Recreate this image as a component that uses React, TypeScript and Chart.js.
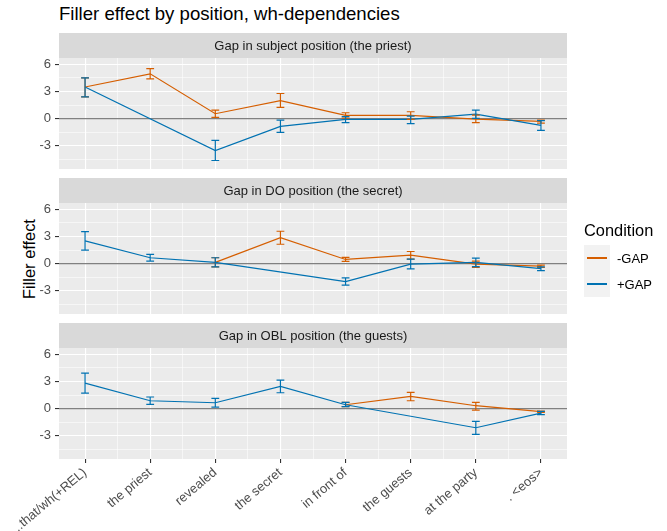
import { useEffect, useRef } from "react";
import { Chart, registerables } from "chart.js";

Chart.register(...registerables);

// Word positions along the sentence
const positions = [
  "...that/wh(+REL)",
  "the priest",
  "revealed",
  "the secret",
  "in front of",
  "the guests",
  "at the party",
  ". <eos>",
];

const panelTitles = [
  "Gap in subject position (the priest)",
  "Gap in DO position (the secret)",
  "Gap in OBL position (the guests)",
];

const conditions = ["-GAP", "+GAP"];

// Subject-gap panel: mean filler effect with lower / upper error bounds
const subjNoGap = [3.5, 4.95, 0.55, 2.0, 0.37, 0.37, -0.04, -0.3];
const subjNoGapLo = [2.41, 4.39, 0.15, 1.24, 0.07, -0.07, -0.44, -0.48];
const subjNoGapHi = [4.5, 5.52, 0.95, 2.78, 0.66, 0.77, 0.4, -0.15];
const subjGap = [3.5, null, -3.51, -0.84, -0.07, -0.07, 0.51, -0.73];
const subjGapLo = [2.41, null, -4.61, -1.5, -0.44, -0.55, 0.04, -1.28];
const subjGapHi = [4.5, null, -2.38, -0.15, 0.22, 0.29, 0.95, -0.22];

// Direct-object-gap panel
const doNoGap = [null, null, 0.15, 2.88, 0.47, 0.95, -0.04, -0.26];
const doNoGapLo = [null, null, -0.36, 2.15, 0.26, 0.51, -0.4, -0.4];
const doNoGapHi = [null, null, 0.66, 3.58, 0.69, 1.35, 0.29, -0.15];
const doGap = [2.52, 0.66, 0.15, null, -1.97, -0.04, 0.15, -0.55];
const doGapLo = [1.5, 0.29, -0.36, null, -2.37, -0.58, -0.33, -0.77];
const doGapHi = [3.54, 1.02, 0.66, null, -1.57, 0.51, 0.62, -0.36];

// Oblique-gap panel
const oblNoGap = [null, null, null, null, 0.44, 1.36, 0.33, -0.33];
const oblNoGapLo = [null, null, null, null, 0.22, 0.88, -0.15, -0.4];
const oblNoGapHi = [null, null, null, null, 0.7, 1.8, 0.7, -0.26];
const oblGap = [2.83, 0.88, 0.66, 2.46, 0.44, null, -2.1, -0.48];
const oblGapLo = [1.73, 0.48, 0.18, 1.76, 0.22, null, -2.83, -0.66];
const oblGapHi = [3.93, 1.29, 1.14, 3.16, 0.7, null, -1.4, -0.29];

// Axis breaks (majors carry labels, the in-between values are minor grid lines)
const yBreaks = [-4.5, -3, -1.5, 0, 1.5, 3, 4.5, 6];
const yMajor = [-3, 0, 3, 6];
const xBreaks = [1, 1.5, 2, 2.5, 3, 3.5, 4, 4.5, 5, 5.5, 6, 6.5, 7, 7.5, 8];

const FONT = '"Liberation Sans", Arial, Helvetica, sans-serif';
const COLORS = ["#D55E00", "#0072B2"];
const Y_MIN = -5.55;
const Y_MAX = 6.7;
const STRIP = 25;
const ERR_HALF = 0.06;

type Vals = (number | null)[];
type Series = { label: string; color: string; y: Vals; lo: Vals; hi: Vals };

const panels: Series[][] = [
  [
    { label: conditions[0], color: COLORS[0], y: subjNoGap, lo: subjNoGapLo, hi: subjNoGapHi },
    { label: conditions[1], color: COLORS[1], y: subjGap, lo: subjGapLo, hi: subjGapHi },
  ],
  [
    { label: conditions[0], color: COLORS[0], y: doNoGap, lo: doNoGapLo, hi: doNoGapHi },
    { label: conditions[1], color: COLORS[1], y: doGap, lo: doGapLo, hi: doGapHi },
  ],
  [
    { label: conditions[0], color: COLORS[0], y: oblNoGap, lo: oblNoGapLo, hi: oblNoGapHi },
    { label: conditions[1], color: COLORS[1], y: oblGap, lo: oblGapLo, hi: oblGapHi },
  ],
];

type PanelProps = { title: string; series: Series[]; top: number; height: number; showX: boolean };

function Panel({ title, series, top, height, showX }: PanelProps) {
  const ref = useRef<HTMLCanvasElement>(null);

  useEffect(() => {
    const canvas = ref.current;
    if (!canvas) return;

    const facetPlugin = {
      id: "facetPanel",
      beforeDraw(chart: any) {
        const { ctx, chartArea: a } = chart;
        ctx.save();
        ctx.fillStyle = "#EBEBEB";
        ctx.fillRect(a.left, a.top, a.right - a.left, a.bottom - a.top);
        ctx.fillStyle = "#D9D9D9";
        ctx.fillRect(a.left, a.top - STRIP, a.right - a.left, STRIP);
        ctx.fillStyle = "#1A1A1A";
        ctx.font = `13px ${FONT}`;
        ctx.textAlign = "center";
        ctx.textBaseline = "middle";
        ctx.fillText(title, (a.left + a.right) / 2, a.top - STRIP / 2 + 0.5);
        ctx.restore();
      },
      beforeDatasetsDraw(chart: any) {
        const { ctx, chartArea: a } = chart;
        const y0 = chart.scales.y.getPixelForValue(0);
        ctx.save();
        ctx.strokeStyle = "#808080";
        ctx.lineWidth = 1.2;
        ctx.beginPath();
        ctx.moveTo(a.left, y0);
        ctx.lineTo(a.right, y0);
        ctx.stroke();
        ctx.restore();
      },
      afterDatasetsDraw(chart: any) {
        const { ctx } = chart;
        const xs = chart.scales.x;
        const ys = chart.scales.y;
        ctx.save();
        ctx.lineWidth = 1.2;
        for (const s of series) {
          ctx.strokeStyle = s.color;
          s.y.forEach((v, i) => {
            const lo = s.lo[i];
            const hi = s.hi[i];
            if (v == null || lo == null || hi == null) return;
            const x = xs.getPixelForValue(i + 1);
            const xl = xs.getPixelForValue(i + 1 - ERR_HALF);
            const xr = xs.getPixelForValue(i + 1 + ERR_HALF);
            const yl = ys.getPixelForValue(lo);
            const yh = ys.getPixelForValue(hi);
            ctx.beginPath();
            ctx.moveTo(x, yl);
            ctx.lineTo(x, yh);
            ctx.moveTo(xl, yl);
            ctx.lineTo(xr, yl);
            ctx.moveTo(xl, yh);
            ctx.lineTo(xr, yh);
            ctx.stroke();
          });
        }
        ctx.restore();
      },
    };

    const isMajorY = (v: number) => yMajor.includes(v);
    const isMajorX = (v: number) => Number.isInteger(v);

    const chart = new Chart(canvas, {
      type: "line",
      data: {
        datasets: series.map((s, k) => ({
          label: s.label,
          data: s.y.map((v, i) => ({ x: i + 1, y: v })) as any,
          borderColor: s.color,
          backgroundColor: s.color,
          borderWidth: 1.2,
          pointRadius: 0,
          tension: 0,
          spanGaps: true,
          fill: false,
          order: series.length - k,
        })),
      },
      options: {
        animation: false,
        responsive: false,
        events: [],
        layout: { padding: { top: STRIP, left: 0, right: 100, bottom: 0 } },
        plugins: { legend: { display: false }, tooltip: { enabled: false }, title: { display: false } },
        scales: {
          x: {
            type: "linear",
            min: 0.6,
            max: 8.4,
            afterBuildTicks: (s: any) => {
              s.ticks = xBreaks.map((v) => ({ value: v }));
            },
            afterFit: (s: any) => {
              s.height = showX ? 72 : 0;
              s.paddingLeft = 0;
              s.paddingRight = 0;
            },
            border: { display: false },
            grid: {
              color: "#FFFFFF",
              lineWidth: (c: any) => (isMajorX(c.tick?.value) ? 1.1 : 0.55),
              drawTicks: showX,
              tickLength: 4,
              tickColor: (c: any) => (isMajorX(c.tick?.value) ? "#333333" : "rgba(0,0,0,0)"),
            },
            ticks: {
              display: showX,
              autoSkip: false,
              minRotation: 40,
              maxRotation: 40,
              padding: 2,
              color: "#4D4D4D",
              font: { size: 13, family: FONT },
              callback: (v: any) => (isMajorX(Number(v)) ? positions[Number(v) - 1] : ""),
            },
          },
          y: {
            type: "linear",
            min: Y_MIN,
            max: Y_MAX,
            afterBuildTicks: (s: any) => {
              s.ticks = yBreaks.map((v) => ({ value: v }));
            },
            afterFit: (s: any) => {
              s.width = 59;
              s.paddingTop = 0;
              s.paddingBottom = 0;
            },
            border: { display: false },
            grid: {
              color: "#FFFFFF",
              lineWidth: (c: any) => (isMajorY(c.tick?.value) ? 1.1 : 0.55),
              drawTicks: true,
              tickLength: 4,
              tickColor: (c: any) => (isMajorY(c.tick?.value) ? "#333333" : "rgba(0,0,0,0)"),
            },
            ticks: {
              autoSkip: false,
              padding: 4,
              color: "#4D4D4D",
              font: { size: 13, family: FONT },
              callback: (v: any) => (isMajorY(Number(v)) ? String(v) : ""),
            },
          },
        },
      },
      plugins: [facetPlugin],
    });

    return () => chart.destroy();
  }, [title, series, showX]);

  return (
    <canvas
      ref={ref}
      width={667}
      height={height}
      style={{ position: "absolute", left: 0, top, width: 667, height, display: "block" }}
    />
  );
}

export default function App() {
  return (
    <div
      style={{
        position: "absolute",
        left: 0,
        top: 0,
        width: 667,
        height: 531,
        background: "#FFFFFF",
        overflow: "hidden",
        fontFamily: FONT,
        color: "#000000",
      }}
    >
      <div
        style={{
          position: "absolute",
          left: 59,
          top: 5,
          fontSize: 18.6,
          lineHeight: "18.6px",
          whiteSpace: "nowrap",
        }}
      >
        Filler effect by position, wh-dependencies
      </div>

      <div
        style={{
          position: "absolute",
          left: 28.5,
          top: 258.5,
          transform: "translate(-50%, -50%) rotate(-90deg)",
          fontSize: 16.4,
          lineHeight: "16.4px",
          whiteSpace: "nowrap",
        }}
      >
        Filler effect
      </div>

      <Panel title={panelTitles[0]} series={panels[0]} top={33} height={136} showX={false} />
      <Panel title={panelTitles[1]} series={panels[1]} top={178} height={136} showX={false} />
      <Panel title={panelTitles[2]} series={panels[2]} top={323} height={208} showX={true} />

      <div
        style={{
          position: "absolute",
          left: 584,
          top: 221.5,
          fontSize: 16.4,
          lineHeight: "16.4px",
          whiteSpace: "nowrap",
        }}
      >
        Condition
      </div>
      <div
        style={{
          position: "absolute",
          left: 584,
          top: 245,
          width: 26,
          height: 52,
          background: "#F2F2F2",
        }}
      />
      {conditions.map((c, k) => (
        <div key={c}>
          <div
            style={{
              position: "absolute",
              left: 586.6,
              top: 257.4 + k * 26,
              width: 20.8,
              height: 1.3,
              background: COLORS[k],
            }}
          />
          <div
            style={{
              position: "absolute",
              left: 617,
              top: 251.5 + k * 26,
              fontSize: 13,
              lineHeight: "13px",
              whiteSpace: "nowrap",
            }}
          >
            {c}
          </div>
        </div>
      ))}
    </div>
  );
}
